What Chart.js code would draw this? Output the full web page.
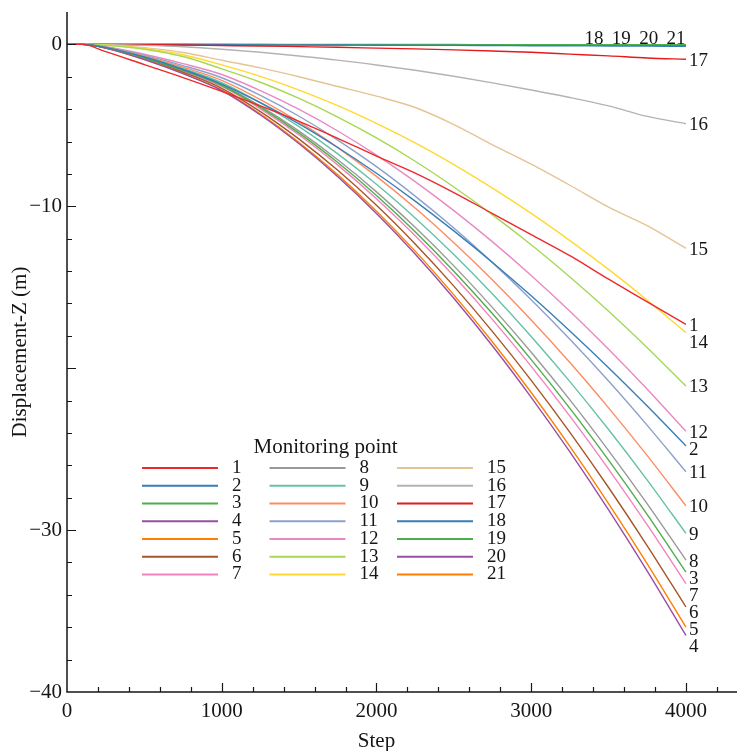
<!DOCTYPE html>
<html>
<head>
<meta charset="utf-8">
<script src="https://cdn.jsdelivr.net/npm/chart.js@4/dist/chart.umd.min.js"></script>
<style>
  html, body { margin: 0; padding: 0; background: #fff; }
  #wrap { width: 737px; height: 751px; }
</style>
</head>
<body>
<div id="wrap"><canvas id="c" width="737" height="751"></canvas></div>
<script>
// Calculation steps at which the vertical displacement was sampled
const steps = [0, 100, 250, 500, 750, 1000, 1250, 1500, 1750, 2000, 2250, 2500, 2750, 3000, 3250, 3500, 3750, 4000];

// Displacement-Z (m) of each monitoring point
const mp1  = [0, 0, -0.45, -1.25, -2.05, -2.90, -3.80, -4.75, -5.80, -6.90, -7.95, -9.15, -10.45, -11.75, -13.05, -14.50, -15.90, -17.30];
const mp2  = [0, 0, -0.20, -0.78, -1.55, -2.45, -3.60, -4.91, -6.37, -7.96, -9.68, -11.52, -13.47, -15.53, -17.70, -19.97, -22.34, -24.80];
const mp3  = [0, 0, -0.20, -0.84, -1.62, -2.54, -3.89, -5.48, -7.30, -9.33, -11.57, -14.01, -16.64, -19.47, -22.48, -25.68, -29.05, -32.60];
const mp4  = [0, 0, -0.23, -0.94, -1.81, -2.85, -4.36, -6.14, -8.17, -10.44, -12.95, -15.68, -18.63, -21.80, -25.17, -28.75, -32.53, -36.50];
const mp5  = [0, 0, -0.22, -0.93, -1.79, -2.81, -4.30, -6.06, -8.06, -10.30, -12.77, -15.47, -18.38, -21.50, -24.83, -28.36, -32.08, -36.00];
const mp6  = [0, 0, -0.22, -0.89, -1.72, -2.71, -4.15, -5.85, -7.78, -9.94, -12.33, -14.93, -17.74, -20.75, -23.96, -27.37, -30.97, -34.75];
const mp7  = [0, 0, -0.21, -0.86, -1.65, -2.60, -3.98, -5.60, -7.46, -9.53, -11.82, -14.31, -17.00, -19.89, -22.96, -26.23, -29.68, -33.30];
const mp8  = [0, 0, -0.20, -0.82, -1.58, -2.48, -3.81, -5.36, -7.13, -9.11, -11.30, -13.68, -16.26, -19.02, -21.96, -25.09, -28.38, -31.85];
const mp9  = [0, 0, -0.19, -0.78, -1.50, -2.36, -3.61, -5.08, -6.76, -8.64, -10.72, -12.98, -15.42, -18.04, -20.83, -23.79, -26.91, -30.20];
const mp10 = [0, 0, -0.18, -0.73, -1.41, -2.22, -3.41, -4.79, -6.38, -8.15, -10.11, -12.25, -14.55, -17.02, -19.65, -22.45, -25.40, -28.50];
const mp11 = [0, 0, -0.16, -0.68, -1.31, -2.06, -3.15, -4.44, -5.91, -7.55, -9.37, -11.34, -13.48, -15.77, -18.21, -20.79, -23.53, -26.40];
const mp12 = [0, 0, -0.15, -0.61, -1.19, -1.86, -2.86, -4.02, -5.35, -6.84, -8.48, -10.27, -12.20, -14.27, -16.48, -18.83, -21.30, -23.90];
const mp13 = [0, 0, -0.05, -0.30, -0.75, -1.51, -2.34, -3.34, -4.49, -5.78, -7.22, -8.81, -10.53, -12.38, -14.37, -16.48, -18.73, -21.10];
const mp14 = [0, 0, -0.04, -0.25, -0.64, -1.27, -1.98, -2.82, -3.78, -4.88, -6.09, -7.43, -8.88, -10.44, -12.12, -13.90, -15.80, -17.80];
const mp15 = [0, 0, -0.03, -0.20, -0.50, -0.98, -1.45, -2.00, -2.60, -3.20, -3.90, -4.95, -6.20, -7.40, -8.70, -10.05, -11.20, -12.60];
const mp16 = [0, 0, -0.01, -0.06, -0.15, -0.30, -0.49, -0.72, -0.97, -1.27, -1.60, -1.97, -2.38, -2.82, -3.28, -3.80, -4.45, -4.90];
const mp17 = [0, 0, -0.01, -0.02, -0.04, -0.07, -0.10, -0.14, -0.18, -0.23, -0.28, -0.34, -0.41, -0.49, -0.60, -0.71, -0.84, -0.92];
const mp18 = [0, 0, 0, -0.01, -0.01, -0.02, -0.03, -0.03, -0.04, -0.05, -0.06, -0.06, -0.07, -0.08, -0.09, -0.10, -0.11, -0.12];
const mp19 = [0, 0, 0, 0, 0, 0, 0, -0.01, -0.01, -0.01, -0.01, -0.01, -0.02, -0.02, -0.02, -0.02, -0.02, -0.02];
const mp20 = [0, 0, 0, 0, -0.01, -0.01, -0.01, -0.02, -0.02, -0.02, -0.03, -0.03, -0.03, -0.04, -0.04, -0.04, -0.05, -0.05];
const mp21 = [0, 0, 0, 0, -0.01, -0.01, -0.02, -0.02, -0.02, -0.03, -0.03, -0.04, -0.04, -0.04, -0.05, -0.05, -0.05, -0.06];

const pointNames = ['1','2','3','4','5','6','7','8','9','10','11','12','13','14','15','16','17','18','19','20','21'];
const pointSeries = [mp1, mp2, mp3, mp4, mp5, mp6, mp7, mp8, mp9, mp10, mp11, mp12, mp13, mp14, mp15, mp16, mp17, mp18, mp19, mp20, mp21];
const pointColors = [
  '#ec2a2c', '#377eb8', '#4daf4a', '#984ea3', '#ff7f00', '#a65628', '#f781bf',
  '#999999', '#66c2a5', '#fc8d62', '#8da0cb', '#e78ac3', '#a6d854', '#ffd92f',
  '#e5c494', '#b3b3b3', '#e41a1c', '#377eb8', '#4daf4a', '#984ea3', '#ff7f00'
];

// Axis ticks
const xTickValues = [0, 1000, 2000, 3000, 4000];
const xTickLabels = ['0', '1000', '2000', '3000', '4000'];
const yTickValues = [0, -10, -30, -40];
const yTickLabels = ['0', '\u221210', '\u221230', '\u221240'];

const SERIF = "'Liberation Serif', 'Times New Roman', serif";
const INK = '#161616';

const datasets = pointSeries.map((vals, i) => ({
  label: pointNames[i],
  data: steps.map((s, k) => ({ x: s, y: vals[k] })),
  borderColor: pointColors[i],
  backgroundColor: pointColors[i],
  borderWidth: 1.4,
  pointRadius: 0,
  cubicInterpolationMode: 'monotone',
  fill: false
}));

// Axes with inward ticks, tick labels, titles, the key and the line-end names
const decorations = {
  id: 'decorations',
  afterDatasetsDraw(chart) {
    const { ctx, chartArea: a, scales: { x, y } } = chart;
    ctx.save();
    ctx.strokeStyle = INK;
    ctx.fillStyle = INK;
    ctx.lineWidth = 1.5;

    // axis lines
    ctx.beginPath();
    ctx.moveTo(a.left, a.top);
    ctx.lineTo(a.left, a.bottom);
    ctx.lineTo(a.right, a.bottom);
    ctx.stroke();

    // x ticks every 200 steps, longer at each thousand
    ctx.lineWidth = 1.2;
    ctx.beginPath();
    for (let s = 200; s <= x.max; s += 200) {
      const px = Math.round(x.getPixelForValue(s)) + 0.5;
      const len = s % 1000 === 0 ? 9 : 5;
      ctx.moveTo(px, a.bottom);
      ctx.lineTo(px, a.bottom - len);
    }
    // y ticks every 2 m, longer at each 10 m
    for (let v = -38; v <= 0; v += 2) {
      const py = Math.round(y.getPixelForValue(v)) + 0.5;
      const len = v % 10 === 0 ? 9 : 5;
      ctx.moveTo(a.left, py);
      ctx.lineTo(a.left + len, py);
    }
    ctx.stroke();

    // tick labels
    ctx.font = '21px ' + SERIF;
    ctx.textAlign = 'center';
    ctx.textBaseline = 'middle';
    xTickValues.forEach((v, i) => {
      ctx.fillText(xTickLabels[i], x.getPixelForValue(v), a.bottom + 19);
    });
    ctx.textAlign = 'right';
    yTickValues.forEach((v, i) => {
      ctx.fillText(yTickLabels[i], a.left - 5, y.getPixelForValue(v));
    });

    // axis titles
    ctx.textAlign = 'center';
    ctx.font = '21px ' + SERIF;
    const xMid = (x.getPixelForValue(xTickValues[0]) + x.getPixelForValue(xTickValues[xTickValues.length - 1])) / 2;
    ctx.fillText('Step', xMid, a.bottom + 49);
    ctx.save();
    ctx.translate(20, (a.top + a.bottom) / 2);
    ctx.rotate(-Math.PI / 2);
    ctx.fillText('Displacement-Z (m)', 0, 0);
    ctx.restore();

    // key: three columns of seven entries
    const metas = chart.data.datasets;
    const keyLeft = 142, colGap = 127.5, rowGap = 17.75, rowTop = 468, lineLen = 76;
    ctx.font = '21px ' + SERIF;
    ctx.textAlign = 'center';
    ctx.fillText('Monitoring point', keyLeft + (colGap * 2 + lineLen + 36) / 2, 447);
    ctx.font = '19px ' + SERIF;
    ctx.textAlign = 'left';
    metas.forEach((ds, i) => {
      const col = Math.floor(i / 7), row = i % 7;
      const x0 = keyLeft + col * colGap;
      const yy = rowTop + row * rowGap;
      ctx.strokeStyle = ds.borderColor;
      ctx.lineWidth = 2;
      ctx.beginPath();
      ctx.moveTo(x0, yy);
      ctx.lineTo(x0 + lineLen, yy);
      ctx.stroke();
      ctx.fillStyle = INK;
      ctx.fillText(ds.label, x0 + lineLen + 14, yy);
    });

    // names at the end of each line
    const lastStep = steps[steps.length - 1];
    const endX = x.getPixelForValue(lastStep);
    const ends = metas.map((ds) => ({
      name: ds.label,
      value: ds.data[ds.data.length - 1].y,
      py: y.getPixelForValue(ds.data[ds.data.length - 1].y)
    }));
    const flat = ends.filter(e => e.value > -0.3);
    const rest = ends.filter(e => e.value <= -0.3).sort((p, q) => p.py - q.py);
    ctx.font = '19px ' + SERIF;
    ctx.fillStyle = INK;
    ctx.textAlign = 'center';
    flat.forEach((e, k) => {
      ctx.fillText(e.name, endX - 10 - (flat.length - 1 - k) * 27.3, a.top + 27);
    });
    ctx.textAlign = 'left';
    let prev = -Infinity;
    rest.forEach(e => {
      const ly = Math.max(e.py + 1.5, prev + 17);
      prev = ly;
      ctx.fillText(e.name, endX + 3, ly);
    });
    ctx.restore();
  }
};

new Chart(document.getElementById('c'), {
  type: 'line',
  data: { datasets },
  options: {
    responsive: false,
    animation: false,
    devicePixelRatio: 1,
    layout: { padding: { left: 67, right: 0, top: 12, bottom: 59 } },
    plugins: { legend: { display: false }, tooltip: { enabled: false } },
    scales: {
      x: { type: 'linear', min: 0, max: 4330, display: false },
      y: { type: 'linear', min: -40, max: 2, display: false }
    }
  },
  plugins: [decorations]
});
</script>
</body>
</html>
